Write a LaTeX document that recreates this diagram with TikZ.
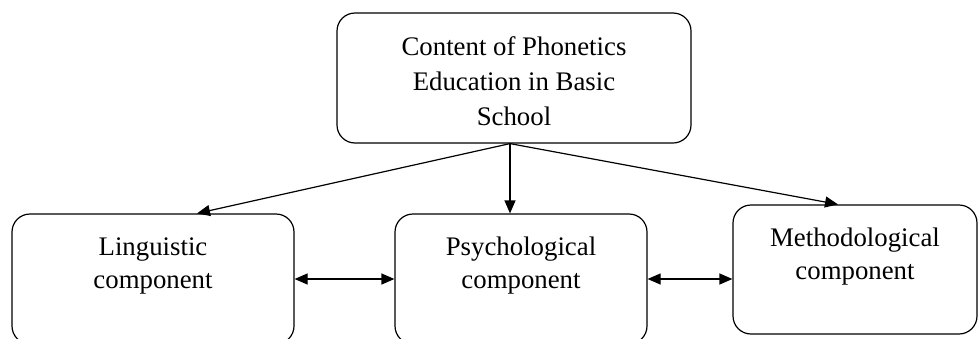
\documentclass[tikz,border=0pt]{standalone}
\usepackage{fontspec}
\setmainfont{Liberation Serif}
\usetikzlibrary{arrows.meta}
\tikzset{
  box/.style={draw,line width=0.6pt,rounded corners=9pt,align=center,
    font=\fontsize{13.4}{16.5}\selectfont,inner xsep=0pt,inner ysep=0pt},
  link/.style={line width=0.6pt,-{Triangle[length=6.5pt,width=5.5pt]}},
  twoway/.style={line width=0.6pt,{Triangle[length=6.5pt,width=5.5pt]}-{Triangle[length=6.5pt,width=5.5pt]}}
}
\begin{document}
\begin{tikzpicture}[x=0.5pt,y=-0.5pt]
        \useasboundingbox (0,0) rectangle (979,338);
        % top box
        \node [box,font=\fontsize{13.4}{17.5}\selectfont,
               minimum width=177pt,text height=56pt,text depth=9pt]
          (content) at (514,78)
          {Content of Phonetics\\Education in Basic\\School};
        % components
        \node [box,minimum width=141pt,text height=37pt,text depth=28pt]
          (ling) at (153,279)
          {Linguistic\\component};
        \node [box,minimum width=126pt,text height=37pt,text depth=28pt]
          (psych) at (521,279)
          {Psychological\\component};
        \node [box,minimum width=122pt,text height=37pt,text depth=27.5pt]
          (meth) at (855,269.5)
          {Methodological\\component};
        \coordinate (hub) at ([xshift=-2pt]content.south);

        \draw [link]
          (hub)
          -- ([xshift=22pt]ling.north)
        ;
        \draw [link]
          (hub)
          -- (hub |- psych.north)
        ;
        \draw [link]
          (hub)
          -- ([xshift=-8.5pt]meth.north)
        ;
        \draw [twoway]
          (ling.east)
          -- (psych.west)
        ;
        \draw [twoway]
          (psych.east)
          -- (psych.east -| meth.west)
        ;
      \end{tikzpicture}
\end{document}
